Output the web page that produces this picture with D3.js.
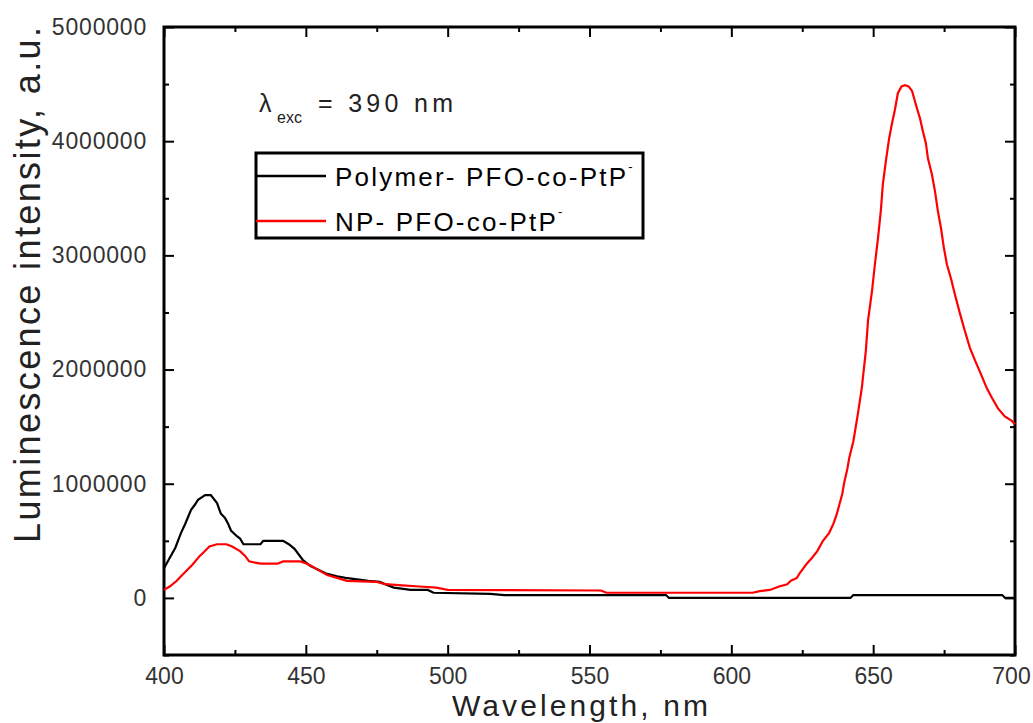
<!DOCTYPE html>
<html>
<head>
<meta charset="utf-8">
<title>Luminescence spectra</title>
<script src="https://d3js.org/d3.v7.min.js"></script>
<style>
  body { margin: 0; background: #fff; }
  text { font-family: "Liberation Sans", Arial, sans-serif; }
  .tick text { fill: #333; font-size: 23px; }
  .tick line { stroke: #000; stroke-width: 2px; }
</style>
</head>
<body>
<script>

// data (wavelength in nm, intensity in a.u.)
var polymerNm = [400, 402, 404, 406, 407.5, 409.5, 411, 412, 414.5, 416.5, 418.7, 420, 421.5, 422.6, 423.6,
  425.7, 426.8, 428, 434, 435, 442, 444, 446, 449, 451.5, 454, 457.5, 461, 464, 472, 476, 481, 487,
  493, 495, 515, 520, 577, 578, 642, 643, 695.5, 696.5, 700];
var polymerI = [260000, 350000, 440000, 570000, 650000, 770000, 820000, 860000, 900000, 900000, 830000,
  740000, 700000, 650000, 590000, 540000, 520000, 470000, 470000, 500000, 500000, 470000, 430000,
  330000, 280000, 250000, 210000, 190000, 175000, 150000, 140000, 90000, 70000, 70000, 45000, 35000,
  25000, 25000, 0, 0, 25000, 25000, 0, 0];

var npNm = [400, 402, 404.5, 406, 408, 410, 412.7, 414, 416, 418.7, 422, 424, 426.8, 428.5, 430, 434,
  440, 442, 448, 450.4, 452, 454, 457.5, 461, 464.5, 475, 478, 484, 490, 496, 500, 554, 556, 607.5,
  610, 613.6, 616.8, 619.7, 621, 623.1, 624.2, 626.6, 628.4, 630.3, 632.3, 634.5, 636, 637, 638,
  639.1, 639.8, 640.9, 641.6, 643, 644.6, 646, 647.4, 648.2, 649.6, 650.6, 651.7, 652.7, 653.4,
  654.5, 655.6, 656.6, 657.7, 658.7, 660, 661.2, 662.5, 663.7, 665.4, 666.5, 667.5, 668.6, 669.3,
  670.7, 671.8, 672.8, 673.9, 674.9, 676, 677.4, 678.8, 680.6, 682.3, 684.1, 685.9, 688, 690,
  691.9, 694, 696.4, 698.9, 700];
var npI = [70000, 100000, 150000, 190000, 240000, 290000, 370000, 400000, 450000, 470000, 470000,
  450000, 410000, 370000, 320000, 300000, 300000, 320000, 320000, 300000, 280000, 250000, 200000,
  175000, 150000, 140000, 120000, 110000, 100000, 90000, 70000, 65000, 45000, 45000, 60000, 70000,
  100000, 120000, 150000, 175000, 220000, 300000, 350000, 410000, 500000, 570000, 650000, 720000,
  810000, 910000, 1010000, 1130000, 1230000, 1370000, 1610000, 1840000, 2160000, 2430000, 2690000,
  2920000, 3150000, 3390000, 3620000, 3830000, 4020000, 4150000, 4280000, 4420000, 4480000, 4490000,
  4480000, 4440000, 4290000, 4200000, 4090000, 3980000, 3850000, 3710000, 3560000, 3390000,
  3240000, 3070000, 2920000, 2800000, 2660000, 2490000, 2340000, 2190000, 2080000, 1960000,
  1840000, 1750000, 1660000, 1590000, 1550000, 1520000];

var xMajor = [400, 450, 500, 550, 600, 650, 700];
var yMajor = [0, 1000000, 2000000, 3000000, 4000000, 5000000];
var legendNames = ["Polymer- PFO-co-PtP", "NP- PFO-co-PtP"];
var seriesColors = ["#000", "#f00"];

var width = 1033, height = 723;
var plotLeft = 164, plotRight = 1015, plotTop = 27, plotBottom = 655;

var svg = d3.select("body").append("svg")
    .attr("width", width)
    .attr("height", height);

var x = d3.scaleLinear().domain([400, 700]).range([plotLeft, plotRight]);
var y = d3.scaleLinear().domain([-500000, 5000000]).range([plotBottom, plotTop]);

var xMinor = d3.range(400, 701, 25).filter(function (d) { return xMajor.indexOf(d) < 0; });
var yMinor = d3.range(-500000, 5000001, 500000).filter(function (d) { return yMajor.indexOf(d) < 0; });

// axes, ticks pointing in
function addAxis(axis, tx, ty) {
  var g = svg.append("g").attr("transform", "translate(" + tx + "," + ty + ")").call(axis);
  g.select(".domain").remove();
  return g;
}

var xl = addAxis(d3.axisBottom(x).tickValues(xMajor).tickSize(-10).tickPadding(13).tickFormat(d3.format("d")), 0, plotBottom);
// last label sits a bit left so it stays inside the page
xl.selectAll("text").filter(function (d) { return d === 700; }).attr("dx", -4);
addAxis(d3.axisBottom(x).tickValues(xMinor).tickSize(-5).tickFormat(""), 0, plotBottom);
addAxis(d3.axisTop(x).tickValues(xMajor).tickSize(-10).tickFormat(""), 0, plotTop);
addAxis(d3.axisTop(x).tickValues(xMinor).tickSize(-5).tickFormat(""), 0, plotTop);

var yl = addAxis(d3.axisLeft(y).tickValues(yMajor).tickSize(-10).tickPadding(17).tickFormat(d3.format("d")), plotLeft, 0);
yl.selectAll("text").style("letter-spacing", "0.8px");
addAxis(d3.axisLeft(y).tickValues(yMinor).tickSize(-5).tickFormat(""), plotLeft, 0);
addAxis(d3.axisRight(y).tickValues(yMajor).tickSize(-10).tickFormat(""), plotRight, 0);
addAxis(d3.axisRight(y).tickValues(yMinor).tickSize(-5).tickFormat(""), plotRight, 0);

// frame
svg.append("rect")
    .attr("x", plotLeft).attr("y", plotTop)
    .attr("width", plotRight - plotLeft).attr("height", plotBottom - plotTop)
    .attr("fill", "none").attr("stroke", "#000").attr("stroke-width", 3);

// curves
var line = d3.line()
    .x(function (d) { return x(d[0]); })
    .y(function (d) { return y(d[1]); });

svg.append("path")
    .datum(d3.zip(polymerNm, polymerI))
    .attr("fill", "none").attr("stroke", seriesColors[0]).attr("stroke-width", 2.2)
    .attr("d", line);

svg.append("path")
    .datum(d3.zip(npNm, npI))
    .attr("fill", "none").attr("stroke", seriesColors[1]).attr("stroke-width", 2.2)
    .attr("d", line);

// axis titles
svg.append("text")
    .attr("x", 452).attr("y", 716)
    .attr("textLength", 256).attr("lengthAdjust", "spacing")
    .style("font-size", "30px").style("fill", "#222")
    .text("Wavelength, nm");

svg.append("text")
    .attr("transform", "translate(40,285) rotate(-90)")
    .attr("text-anchor", "middle")
    .attr("textLength", 516).attr("lengthAdjust", "spacing")
    .style("font-size", "36px").style("fill", "#222")
    .text("Luminescence intensity, a.u.");

// excitation note
svg.append("text").attr("x", 259).attr("y", 112)
    .style("font-size", "25px").style("fill", "#222").text("λ");
svg.append("text").attr("x", 277).attr("y", 123)
    .style("font-size", "16px").style("fill", "#222").text("exc");
svg.append("text").attr("x", 318).attr("y", 112)
    .attr("textLength", 135).attr("lengthAdjust", "spacing")
    .style("font-size", "25px").style("fill", "#222").text("= 390  nm");

// legend
var legend = svg.append("g");
legend.append("rect")
    .attr("x", 256).attr("y", 153).attr("width", 387).attr("height", 85)
    .attr("fill", "#fff").attr("stroke", "#000").attr("stroke-width", 3);

var legendY = [176, 221];
legendNames.forEach(function (name, i) {
  legend.append("line")
      .attr("x1", 256).attr("x2", 326)
      .attr("y1", legendY[i]).attr("y2", legendY[i])
      .attr("stroke", seriesColors[i]).attr("stroke-width", 2.5);
  var t = legend.append("text")
      .attr("x", 335).attr("y", legendY[i] + 10)
      .style("font-size", "26px").style("letter-spacing", "2.2px").style("fill", "#000");
  t.append("tspan").text(name);
  t.append("tspan").attr("dy", -15).style("font-size", "13px").text("-");
});

</script>
</body>
</html>
